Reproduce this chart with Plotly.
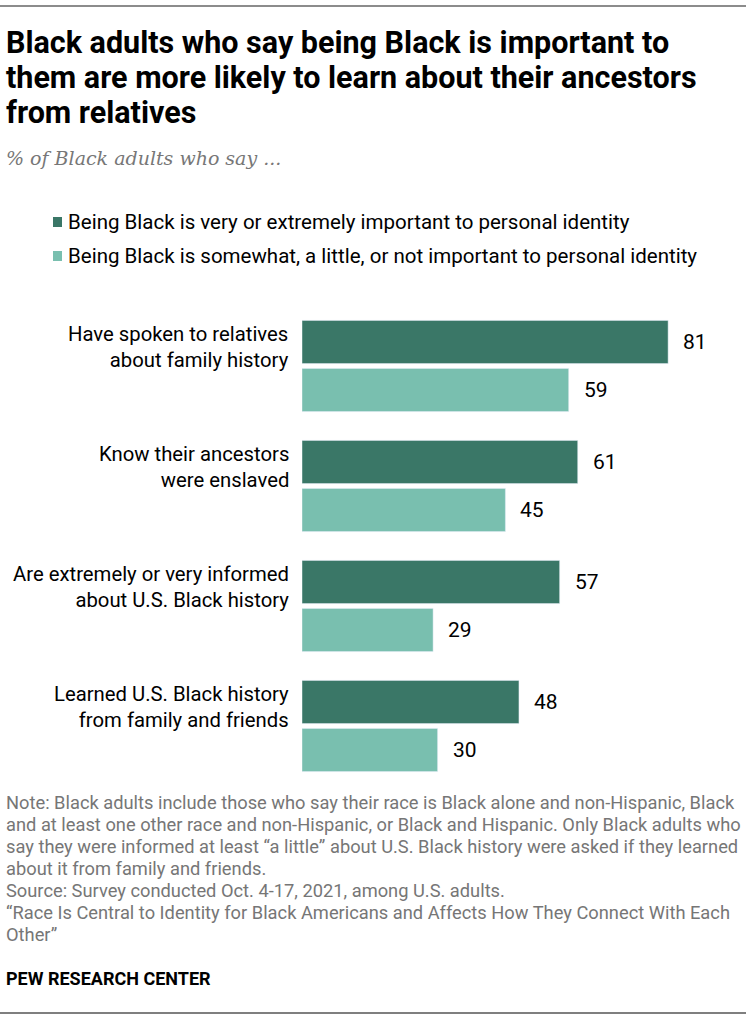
import plotly.graph_objects as go

# chart data
categories = [
    "Have spoken to relatives<br>about family history",
    "Know their ancestors<br>were enslaved",
    "Are extremely or very informed<br>about U.S. Black history",
    "Learned U.S. Black history<br>from family and friends",
]
very_important = [81, 61, 57, 48]
less_important = [59, 45, 29, 30]
series_names = [
    "Being Black is very or extremely important to personal identity",
    "Being Black is somewhat, a little, or not important to personal identity",
]

title_lines = [
    "Black adults who say being Black is important to",
    "them are more likely to learn about their ancestors",
    "from relatives",
]
subtitle = "% of Black adults who say ..."
note_lines = [
    "Note: Black adults include those who say their race is Black alone and non-Hispanic, Black",
    "and at least one other race and non-Hispanic, or Black and Hispanic. Only Black adults who",
    "say they were informed at least \u201ca little\u201d about U.S. Black history were asked if they learned",
    "about it from family and friends.",
    "Source: Survey conducted Oct. 4-17, 2021, among U.S. adults.",
    "\u201cRace Is Central to Identity for Black Americans and Affects How They Connect With Each",
    "Other\u201d",
]

W, H = 752, 1024
DARK = "#3a7767"
LIGHT = "#79bfaf"
FONT = "Roboto, Liberation Sans, sans-serif"


def px(x):
    return x / W


def py(y):
    return 1 - y / H


fig = go.Figure()
fig.add_trace(go.Bar(y=categories, x=very_important, orientation="h",
                     marker_color=DARK, name=series_names[0]))
fig.add_trace(go.Bar(y=categories, x=less_important, orientation="h",
                     marker_color=LIGHT, name=series_names[1]))

annotations = []

# title, one annotation per line
for i, line in enumerate(title_lines):
    annotations.append(dict(x=px(4), y=py(42 + i * 35), xref="paper", yref="paper",
                            xanchor="left", yanchor="middle", showarrow=False, text="<b>" + line + "</b>",
                            font=dict(family=FONT, size=30.5, color="#000000")))

annotations.append(dict(x=px(4), y=py(158), xref="paper", yref="paper",
                        xanchor="left", yanchor="middle", showarrow=False, text="<i>" + subtitle + "</i>",
                        font=dict(family="DejaVu Serif, serif", size=19, color="#777777")))

# legend drawn by hand
shapes = []
for i, (name, col) in enumerate(zip(series_names, [DARK, LIGHT])):
    yc = 222 + i * 34
    shapes.append(dict(type="rect", xref="paper", yref="paper",
                       x0=px(53), x1=px(62), y0=py(yc - 5), y1=py(yc + 5),
                       fillcolor=col, line=dict(width=0)))
    annotations.append(dict(x=px(66), y=py(yc), xref="paper", yref="paper",
                            xanchor="left", yanchor="middle", showarrow=False, text=name,
                            font=dict(family=FONT, size=20.5, color="#000000")))

# category labels
for cat in categories:
    annotations.append(dict(x=px(291), y=cat, xref="paper", yref="y",
                            xanchor="right", yanchor="middle", yshift=19, showarrow=False,
                            text=cat, align="right",
                            font=dict(family=FONT, size=20.3, color="#000000")))

# value labels
for vals, shift in [(very_important, 24), (less_important, -24)]:
    for cat, v in zip(categories, vals):
        annotations.append(dict(x=v, y=cat, xref="x", yref="y", xanchor="left",
                                yanchor="middle", xshift=13, yshift=shift, showarrow=False,
                                text=str(v), font=dict(family=FONT, size=21, color="#000000")))

# notes
for i, line in enumerate(note_lines):
    annotations.append(dict(x=px(4), y=py(802 + i * 22), xref="paper", yref="paper",
                            xanchor="left", yanchor="middle", showarrow=False, text=line,
                            font=dict(family=FONT, size=18.3, color="#767676")))

annotations.append(dict(x=px(4), y=py(978), xref="paper", yref="paper",
                        xanchor="left", yanchor="middle", showarrow=False,
                        text="<b>PEW RESEARCH CENTER</b>",
                        font=dict(family=FONT, size=18, color="#000000")))

# top and bottom rules
shapes.append(dict(type="line", xref="paper", yref="paper", x0=0, x1=px(746),
                   y0=py(6), y1=py(6), line=dict(color="#8c8c8c", width=2)))
shapes.append(dict(type="line", xref="paper", yref="paper", x0=0, x1=px(746),
                   y0=py(1013), y1=py(1013), line=dict(color="#555555", width=1.5)))

fig.update_layout(
    width=W, height=H,
    margin=dict(l=0, r=0, t=0, b=0),
    paper_bgcolor="white", plot_bgcolor="white",
    barmode="group", bargap=0.2, bargroupgap=0.1,
    showlegend=False,
    xaxis=dict(domain=[px(302), 1], range=[0, 450 / 4.52], visible=False),
    yaxis=dict(domain=[py(786), py(306)], range=[3.5, -0.5], visible=False,
               type="category", categoryorder="array", categoryarray=categories),
    annotations=annotations,
    shapes=shapes,
)

# the page's default body margin would push the figure off by 8px
fig.write_html("out.html", config={"displayModeBar": False},
               post_script="document.body.style.margin='0';document.body.style.overflow='hidden';")
